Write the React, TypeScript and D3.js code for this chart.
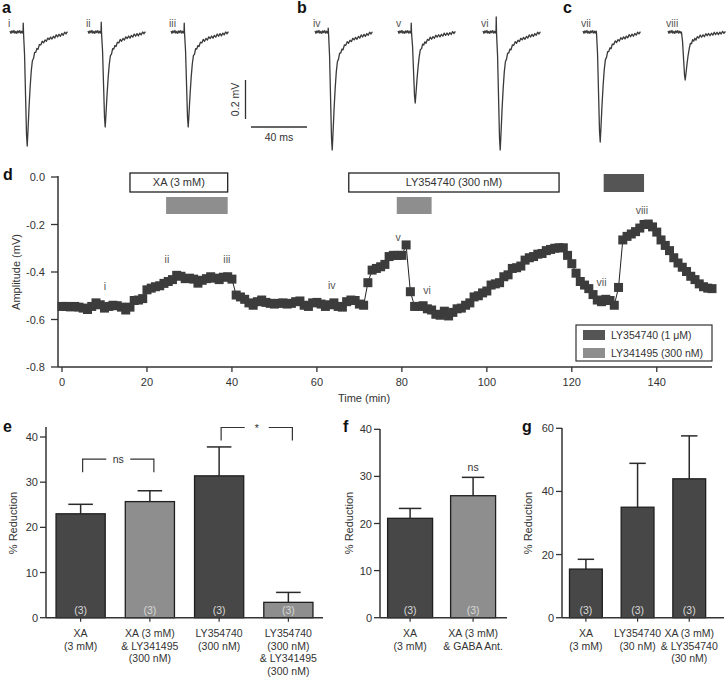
import React from "react";
import * as d3 from "d3";

// ---------- Panel d: time course (one sample per minute) ----------
const D_AMP = [
  -0.545, -0.545, -0.547, -0.545, -0.548, -0.552, -0.558, -0.545, -0.53, -0.538,
  -0.552, -0.545, -0.54, -0.542, -0.548, -0.56, -0.548, -0.52, -0.518, -0.512,
  -0.475, -0.468, -0.462, -0.458, -0.448, -0.44, -0.432, -0.414, -0.418, -0.428,
  -0.426, -0.43, -0.447, -0.435, -0.428, -0.42, -0.426, -0.432, -0.422, -0.42,
  -0.43, -0.497, -0.505, -0.515, -0.53, -0.54, -0.525, -0.518, -0.528, -0.532,
  -0.535, -0.532, -0.53, -0.535, -0.532, -0.525, -0.522, -0.54, -0.545, -0.53,
  -0.528, -0.535, -0.545, -0.538, -0.53, -0.545, -0.548, -0.525, -0.518, -0.52,
  -0.535, -0.54, -0.445, -0.392, -0.385, -0.378, -0.368, -0.335, -0.33, -0.33,
  -0.33, -0.286, -0.483, -0.545, -0.545, -0.542, -0.555, -0.56, -0.578, -0.582,
  -0.565, -0.585, -0.57, -0.555, -0.552, -0.54, -0.53, -0.505, -0.5, -0.488,
  -0.48, -0.455, -0.45, -0.445, -0.42, -0.412, -0.385, -0.382, -0.375, -0.35,
  -0.34, -0.335, -0.325, -0.322, -0.31, -0.305, -0.3, -0.298, -0.298, -0.33,
  -0.365, -0.405, -0.44, -0.455, -0.47, -0.495, -0.518, -0.525, -0.515, -0.52,
  -0.54, -0.465, -0.265, -0.25, -0.24, -0.23, -0.215, -0.2, -0.198, -0.21,
  -0.232, -0.265, -0.288, -0.31, -0.34, -0.362, -0.38, -0.398, -0.418, -0.432,
  -0.45, -0.462, -0.468, -0.47,
];
const D_TIME = D_AMP.map((_, i) => i); // minutes
const D_X_TICKS = [0, 20, 40, 60, 80, 100, 120, 140];
const D_Y_TICKS = [-0.8, -0.6, -0.4, -0.2, 0];
const D_MARK_LABELS = ["i", "ii", "iii", "iv", "v", "vi", "vii", "viii"];
const D_MARK_T = [10.1, 24.7, 38.8, 63.5, 79.1, 85.9, 127, 136.5];
const D_MARK_V = [-0.463, -0.349, -0.349, -0.455, -0.253, -0.476, -0.446, -0.139];
const DRUG_NAMES = ["XA (3 mM)", "LY354740 (300 nM)", "LY341495", "LY341495", "LY354740 (1 μM)"];
const DRUG_START = [16, 67.5, 24.5, 78.8, 127.5];
const DRUG_END = [39, 117, 39, 87, 137];
const DRUG_KIND = ["box", "box", "light", "light", "dark"];
const LEGEND_ITEMS = ["LY354740 (1 μM)", "LY341495 (300 nM)"];

// ---------- Panels a-c: example traces ----------
const TRACE_MS = [0, 0.7, 1.4, 2.1, 2.8, 3.5, 4.2, 4.9, 5.6, 6.3, 7.0, 7.7, 8.4, 9.0, 9.3, 9.45, 9.7, 10.4, 11.2, 11.8, 12.3, 12.9, 13.6, 14.4, 15.2, 16.0, 16.8, 17.6, 18.4, 19.2, 20, 21, 22, 23, 24, 25, 26, 27, 28, 29, 30, 31, 32, 33, 34, 35, 36, 37, 38, 39, 40, 41];
const TRACE_SHAPE = [0, 0, 0, 0, 0, 0, 0, 0, 0, 0, 0, 0, 0, 0, 0, 0, 0.02, 0.2, 0.6, 0.9, 1.0, 0.85, 0.66, 0.48, 0.34, 0.26, 0.22, 0.19, 0.17, 0.155, 0.14, 0.12, 0.105, 0.095, 0.085, 0.078, 0.07, 0.065, 0.06, 0.055, 0.05, 0.046, 0.042, 0.038, 0.034, 0.03, 0.026, 0.022, 0.018, 0.014, 0.01, 0.006];
const TRACE_NOISE = [0.005, -0.007, 0.006, -0.004, 0.008, -0.006, 0.003, -0.007, 0.006, -0.003, 0.007, -0.006, 0.004, -0.005, 0, 0, 0, 0, 0, 0, 0, 0, 0, 0, 0, 0.005, -0.006, 0.007, -0.005, 0.006, -0.007, 0.006, -0.005, 0.008, -0.006, 0.005, -0.007, 0.007, -0.004, 0.006, -0.007, 0.005, -0.006, 0.008, -0.005, 0.006, -0.007, 0.005, -0.006, 0.007, -0.004, 0.005];
const TRACE_LABELS = ["i", "ii", "iii", "iv", "v", "vi", "vii", "viii"];
const TRACE_AMP = [0.585, 0.487, 0.487, 0.605, 0.364, 0.605, 0.564, 0.246];
const TRACE_ART = [0.046, 0.05, 0.046, 0.02, 0.046, 0.077, 0.005, 0.0];
const TRACE_ART_MS = 9.45;
const SCALE_MV = 0.2;
const SCALE_MS = 40;

// ---------- Panel e ----------
const E_CATS = [["XA", "(3 mM)"], ["XA (3 mM)", "& LY341495", "(300 nM)"], ["LY354740", "(300 nM)"], ["LY354740", "(300 nM)", "& LY341495", "(300 nM)"]];
const E_MEAN = [23.0, 25.7, 31.4, 3.4];
const E_SEM = [2.1, 2.4, 6.4, 2.2];
const E_N = [3, 3, 3, 3];
const E_SHADE = ["dark", "light", "dark", "light"];
const E_Y_TICKS = [0, 10, 20, 30, 40];
const E_SIG_A = [0, 2];
const E_SIG_B = [1, 3];
const E_SIG_TEXT = ["ns", "*"];
const E_SIG_LEVEL = [35.1, 42.1];
const E_SIG_LEG = [32.2, 39.2];

// ---------- Panel f ----------
const F_CATS = [["XA", "(3 mM)"], ["XA (3 mM)", "& GABA Ant."]];
const F_MEAN = [21.1, 25.9];
const F_SEM = [2.1, 3.9];
const F_N = [3, 3];
const F_SHADE = ["dark", "light"];
const F_Y_TICKS = [0, 10, 20, 30, 40];
const F_SIG_TEXT = ["", "ns"];

// ---------- Panel g ----------
const G_CATS = [["XA", "(3 mM)"], ["LY354740", "(30 nM)"], ["XA (3 mM)", "& LY354740", "(30 nM)"]];
const G_MEAN = [15.4, 35.0, 44.0];
const G_SEM = [3.1, 13.9, 13.6];
const G_N = [3, 3, 3];
const G_SHADE = ["dark", "dark", "dark"];
const G_Y_TICKS = [0, 20, 40, 60];

const FONT = "'Liberation Sans', Arial, Helvetica, sans-serif";
const INK = "#333";
const DARK = "#474747";
const LIGHT = "#8e8e8e";
const MARK = "#3c3c3c";

function Label({ x, y, children, anchor }: any) {
  return (
    <g opacity={0.999}>
      <text x={x} y={y} textAnchor={anchor || "start"} fontSize={10.5} fill="#555">
        {children}
      </text>
    </g>
  );
}

function Trace({ idx, x0, base }: { idx: number; x0: number; base: number }) {
  const x = d3.scaleLinear().domain([0, 1]).range([x0, x0 + 1.4]);
  const y = d3.scaleLinear().domain([0, -1]).range([base, base + 195]);
  const vals = TRACE_MS.map((t, i) => {
    let v = -TRACE_AMP[idx] * TRACE_SHAPE[i] + TRACE_NOISE[i];
    if (t === TRACE_ART_MS) v += TRACE_ART[idx];
    return v;
  });
  const line = d3.line<number>().x((_, i) => x(TRACE_MS[i])).y((v) => y(v));
  return <path d={line(vals) || ""} fill="none" stroke="#3a3a3a" strokeWidth={1.3} strokeLinejoin="round" />;
}

function BarPanel(p: any) {
  const { cats, mean, sem, n, shade, yMax, yTicks, yTopPx, axisX, xEnd, padInner, padOuter, align, axisTop, yLabelX, sigTop } = p;
  const y = d3.scaleLinear().domain([0, yMax]).range([617.7, yTopPx]);
  const x = d3.scaleBand<number>().domain(d3.range(cats.length)).range([axisX, xEnd]).paddingInner(padInner).paddingOuter(padOuter).align(align);
  const bw = x.bandwidth();
  const y0 = y(0);
  return (
    <g>
      {cats.map((_: any, i: number) => {
        const cx = (x(i) as number) + bw / 2;
        return (
          <g key={i}>
            <line x1={cx} x2={cx} y1={y(mean[i])} y2={y(mean[i] + sem[i])} stroke="#2a2a2a" strokeWidth={1.5} />
            <line x1={cx - bw * 0.25} x2={cx + bw * 0.25} y1={y(mean[i] + sem[i])} y2={y(mean[i] + sem[i])} stroke="#2a2a2a" strokeWidth={1.5} />
            <rect x={x(i)} y={y(mean[i])} width={bw} height={y0 - y(mean[i])} fill={shade[i] === "dark" ? DARK : LIGHT} stroke="#1f1f1f" strokeWidth={1.3} />
            <text x={cx} y={y0 - 4} textAnchor="middle" fontSize={10.5} fill="#d8d8d8">({n[i]})</text>
            <line x1={cx} x2={cx} y1={y0} y2={y0 + 4} stroke={INK} strokeWidth={1.2} />
            <text x={cx} y={637} textAnchor="middle" fontSize={10.5} fill={INK}>
              {cats[i].map((s: string, k: number) => (
                <tspan key={k} x={cx} dy={k === 0 ? 0 : 12.7}>{s}</tspan>
              ))}
            </text>
            {sigTop && sigTop[i] ? (
              <text x={cx} y={y(mean[i] + sem[i]) - 6} textAnchor="middle" fontSize={10.5} fill={INK}>{sigTop[i]}</text>
            ) : null}
          </g>
        );
      })}
      <line x1={axisX} x2={axisX} y1={y0} y2={axisTop} stroke={INK} strokeWidth={1.5} />
      <line x1={axisX} x2={xEnd} y1={y0} y2={y0} stroke={INK} strokeWidth={1.5} />
      {yTicks.map((t: number) => (
        <g key={t}>
          <line x1={axisX - 6} x2={axisX} y1={y(t)} y2={y(t)} stroke={INK} strokeWidth={1.3} />
          <text x={axisX - 8} y={y(t) + 4} textAnchor="end" fontSize={11} fill={INK}>{t}</text>
        </g>
      ))}
      <text transform={`translate(${yLabelX},523) rotate(-90)`} textAnchor="middle" fontSize={11} fill={INK}>% Reduction</text>
      {p.children ? p.children(x, y, bw) : null}
    </g>
  );
}

export default function App() {
  const dx = d3.scaleLinear().domain([0, 153]).range([62, 712]);
  const dy = d3.scaleLinear().domain([-0.8, 0]).range([367, 177]);
  const dLine = d3.line<number>().x((_, i) => dx(D_TIME[i])).y((v) => dy(v));

  const TRACE_X0 = [10, 88, 171, 315, 398, 483, 583, 668];
  const base = 32;
  const msScale = d3.scaleLinear().domain([0, SCALE_MS]).range([251, 251 + 1.4 * SCALE_MS]);
  const mvScale = d3.scaleLinear().domain([0, SCALE_MV]).range([119, 119 - 195 * SCALE_MV]);
  const M = 9;

  return (
    <svg width={727} height={677} style={{ position: "absolute", left: 0, top: 0, background: "#fff" }} fontFamily={FONT}>
      <rect x={0} y={0} width={727} height={677} fill="#fff" />
      {[["a", 2, 13], ["b", 297, 13], ["c", 563, 13], ["d", 3, 180], ["e", 3, 432], ["f", 343, 432], ["g", 522, 432]].map(([l, x, y]) => (
        <text key={l as string} x={x as number} y={y as number} fontSize={16} fontWeight="bold" fill="#111">{l}</text>
      ))}

      {TRACE_LABELS.map((lab, i) => (
        <g key={lab}>
          <Trace idx={i} x0={TRACE_X0[i]} base={base} />
          <Label x={TRACE_X0[i] - 2} y={27}>{lab}</Label>
        </g>
      ))}
      <line x1={245.5} x2={245.5} y1={mvScale(0)} y2={mvScale(SCALE_MV)} stroke={INK} strokeWidth={1.3} />
      <text transform={`translate(239,${(mvScale(0) + mvScale(SCALE_MV)) / 2}) rotate(-90)`} textAnchor="middle" fontSize={10.5} fill={INK}>0.2 mV</text>
      <line x1={msScale(0)} x2={msScale(SCALE_MS)} y1={127} y2={127} stroke={INK} strokeWidth={1.3} />
      <text x={(msScale(0) + msScale(SCALE_MS)) / 2} y={141} textAnchor="middle" fontSize={10.5} fill={INK}>40 ms</text>

      {/* panel d */}
      <line x1={58} x2={58} y1={176} y2={367} stroke={INK} strokeWidth={1.5} />
      <line x1={58} x2={712} y1={367} y2={367} stroke={INK} strokeWidth={1.5} />
      {D_Y_TICKS.map((t) => (
        <g key={t}>
          <line x1={51} x2={58} y1={dy(t)} y2={dy(t)} stroke={INK} strokeWidth={1.3} />
          <text x={45} y={dy(t) + 4} textAnchor="end" fontSize={11} fill={INK}>{t.toFixed(1)}</text>
        </g>
      ))}
      {D_X_TICKS.map((t) => (
        <g key={t}>
          <line x1={dx(t)} x2={dx(t)} y1={367} y2={372} stroke={INK} strokeWidth={1.3} />
          <text x={dx(t)} y={386} textAnchor="middle" fontSize={11} fill={INK}>{t}</text>
        </g>
      ))}
      <text x={364} y={402} textAnchor="middle" fontSize={11} fill={INK}>Time (min)</text>
      <text transform="translate(20,272) rotate(-90)" textAnchor="middle" fontSize={11} fill={INK}>Amplitude (mV)</text>

      {DRUG_NAMES.map((name, i) => {
        const kind = DRUG_KIND[i];
        const x0 = dx(DRUG_START[i]);
        const x1 = dx(DRUG_END[i]);
        if (kind === "box") {
          return (
            <g key={i}>
              <rect x={x0} y={173} width={x1 - x0} height={19} fill="#fff" stroke="#222" strokeWidth={1.3} />
              <text x={(x0 + x1) / 2} y={186} textAnchor="middle" fontSize={11} fill={INK}>{name}</text>
            </g>
          );
        }
        return <rect key={i} x={x0} y={kind === "light" ? 197 : 174} width={x1 - x0} height={kind === "light" ? 17 : 18} fill={kind === "light" ? LIGHT : "#555"} />;
      })}

      <path d={dLine(D_AMP) || ""} fill="none" stroke="#222" strokeWidth={1} />
      {D_AMP.map((v, i) => (
        <rect key={i} x={dx(D_TIME[i]) - M / 2} y={dy(v) - M / 2} width={M} height={M} fill={MARK} />
      ))}
      {D_MARK_LABELS.map((l, i) => (
        <Label key={l} x={dx(D_MARK_T[i])} y={dy(D_MARK_V[i]) + 3.5} anchor="middle">{l}</Label>
      ))}

      <rect x={576} y={325} width={136} height={36} fill="#fff" stroke="#333" strokeWidth={1.2} />
      {LEGEND_ITEMS.map((l, i) => (
        <g key={l}>
          <rect x={583} y={330 + i * 18} width={22} height={10} fill={i === 0 ? "#555" : LIGHT} />
          <text x={611} y={339 + i * 18} fontSize={10.5} fill={INK}>{l}</text>
        </g>
      ))}

      <BarPanel cats={E_CATS} mean={E_MEAN} sem={E_SEM} n={E_N} shade={E_SHADE} yMax={40} yTicks={E_Y_TICKS} yTopPx={437} axisX={46} xEnd={323} padInner={0.29} padOuter={0.145} align={0.5} axisTop={427} yLabelX={17}>
        {(x: any, y: any, bw: number) =>
          E_SIG_TEXT.map((s, k) => {
            const xa = x(E_SIG_A[k]) + bw / 2 + 2;
            const xb = x(E_SIG_B[k]) + bw / 2 + 4;
            const xm = (xa + xb) / 2;
            const gap = 12;
            const yl = y(E_SIG_LEVEL[k]);
            return (
              <g key={k} stroke={INK} strokeWidth={1.2} fill="none">
                <path d={`M${xa},${y(E_SIG_LEG[k])}V${yl}H${xm - gap}M${xm + gap},${yl}H${xb}V${y(E_SIG_LEG[k])}`} />
                <text x={xm} y={yl + 4} textAnchor="middle" fontSize={10.5} fill={INK} stroke="none">{s}</text>
              </g>
            );
          })
        }
      </BarPanel>

      <BarPanel cats={F_CATS} mean={F_MEAN} sem={F_SEM} n={F_N} shade={F_SHADE} yMax={40} yTicks={F_Y_TICKS} yTopPx={429.3} axisX={380} xEnd={507} padInner={0.286} padOuter={0.151} align={0.4} axisTop={429} yLabelX={353} sigTop={F_SIG_TEXT} />

      <BarPanel cats={G_CATS} mean={G_MEAN} sem={G_SEM} n={G_N} shade={G_SHADE} yMax={60} yTicks={G_Y_TICKS} yTopPx={428.3} axisX={562} xEnd={724} padInner={0.365} padOuter={0.25} align={0.29} axisTop={428} yLabelX={532} />
    </svg>
  );
}
